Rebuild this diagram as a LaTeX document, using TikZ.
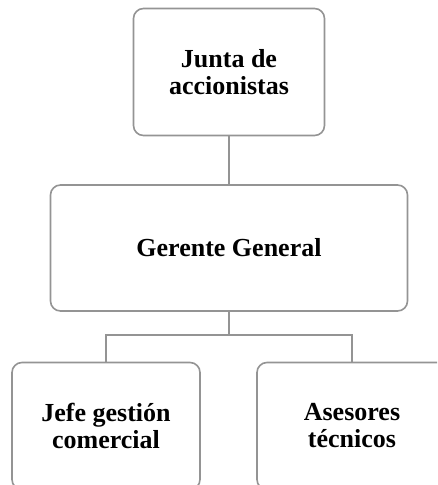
\documentclass[tikz,border=0pt]{standalone}
\usepackage{fontspec}
\setmainfont{Liberation Serif}
\usetikzlibrary{positioning,calc}

\begin{document}
\begin{tikzpicture}
    [x=1pt, y=-1pt,
     box/.style={draw=black!42, line width=1.6pt, rounded corners=10pt,
                 align=center, inner sep=0pt,
                 font=\fontsize{26}{27}\selectfont\bfseries},
     link/.style={draw=black!42, line width=1.6pt}]
    \clip (0, 0) rectangle (437, 485);
    \useasboundingbox (0, 0) rectangle (437, 485);

    % Boxes
    \node (junta) at (229, 72) [box, minimum width=191, minimum height=127]
    {Junta de\\accionistas};
    \node (gerente) at (229, 248) [box, minimum width=357, minimum height=126]
    {Gerente General};
    \node (jefe) at (106, 426) [box, minimum width=188, minimum height=127]
    {Jefe gestión\\comercial};
    \node (asesores) at (352, 426) [box, minimum width=190, minimum height=127]
    {Asesores\\técnicos};

    % Lines
    \coordinate (split) at (229, 335);
    \draw [link] (junta.south) -- (gerente.north);
    \draw [link] (gerente.south) -- (split) -| (jefe.north);
    \draw [link] (split) -| (asesores.north);
\end{tikzpicture}
\end{document}
